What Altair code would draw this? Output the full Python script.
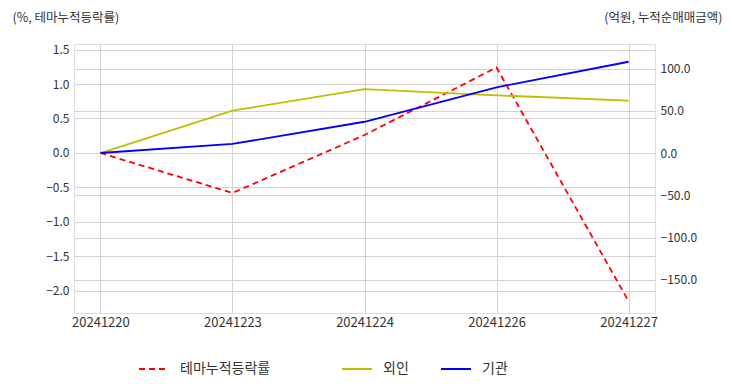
import altair as alt
import pandas as pd

dates = ["20241220", "20241223", "20241224", "20241226", "20241227"]
theme_rate = [0.0, -0.58, 0.26, 1.24, -2.15]      # 테마누적등락률 (%)
foreign = [0.0, 50.1, 75.7, 68.3, 61.9]            # 외인 (억원)
institution = [0.0, 10.7, 37.0, 77.8, 108.0]       # 기관 (억원)

left_names = ["테마누적등락률"]
right_names = ["외인", "기관"]
left_colors = ["#ff0000"]
right_colors = ["#bfbf00", "#0000ff"]

rows = []
for d, a, b, c in zip(dates, theme_rate, foreign, institution):
    rows.append({"date": d, "series": "테마누적등락률", "value": a})
    rows.append({"date": d, "series": "외인", "value": b})
    rows.append({"date": d, "series": "기관", "value": c})
df = pd.DataFrame(rows)

FONT = "Noto Sans CJK KR"
TXT = "#333333"
GRID = "#d3d3d3"

x_enc = alt.X("date:O", sort=dates,
              scale=alt.Scale(type="point", padding=0.2),
              axis=alt.Axis(title=None, labelAngle=0, ticks=False, domain=False,
                            grid=True, gridColor=GRID, labelPadding=3,
                            labelFontSize=13, labelColor=TXT, labelFont=FONT))


def legend(lx):
    return alt.Legend(title=None, orient="none", direction="horizontal",
                      legendX=lx, legendY=309,
                      symbolType="stroke", symbolSize=900,
                      symbolStrokeWidth=2, labelOffset=10,
                      columnPadding=28, labelFontSize=14,
                      labelColor=TXT, labelFont=FONT)


left = alt.Chart(df).transform_filter(alt.datum.series == "테마누적등락률").mark_line(strokeWidth=1.8).encode(
    x=x_enc,
    y=alt.Y("value:Q",
            scale=alt.Scale(domain=[-2.32, 1.58], nice=False, zero=False),
            axis=alt.Axis(orient="left", values=[-2, -1.5, -1, -0.5, 0, 0.5, 1, 1.5], format=".1f",
                          ticks=False, domain=False, grid=True, gridColor=GRID,
                          labelPadding=5, labelFontSize=12, labelColor=TXT, labelFont=FONT,
                          title="(%, 테마누적등락률)", titleAngle=0, titleX=-62, titleY=-27,
                          titleAlign="left", titleBaseline="middle", titleFontSize=12.5,
                          titleFontWeight="normal", titleColor=TXT, titleFont=FONT)),
    color=alt.Color("series:N", scale=alt.Scale(domain=left_names, range=left_colors),
                    legend=legend(64)),
    strokeDash=alt.StrokeDash("series:N", scale=alt.Scale(domain=left_names, range=[[6, 4]]),
                              legend=legend(64)),
)

right = alt.Chart(df).transform_filter(alt.datum.series != "테마누적등락률").mark_line(strokeWidth=1.8).encode(
    x=x_enc,
    y=alt.Y("value:Q",
            scale=alt.Scale(domain=[-189.3, 129], nice=False, zero=False),
            axis=alt.Axis(orient="right", values=[-150, -100, -50, 0, 50, 100], format=".1f",
                          ticks=False, domain=False, grid=True, gridColor=GRID,
                          labelPadding=5, labelFontSize=12, labelColor=TXT, labelFont=FONT,
                          title="(억원, 누적순매매금액)", titleAngle=0, titleX=67, titleY=-27,
                          titleAlign="right", titleBaseline="middle", titleFontSize=12.5,
                          titleFontWeight="normal", titleColor=TXT, titleFont=FONT)),
    color=alt.Color("series:N", scale=alt.Scale(domain=right_names, range=right_colors),
                    legend=legend(267)),
)

chart = alt.layer(left, right).resolve_scale(
    y="independent", color="independent", strokeDash="independent"
).properties(
    width=581, height=269,
    autosize=alt.AutoSizeParams(type="none"),
    padding={"left": 66, "top": 36, "right": 69, "bottom": 71},
).configure_view(stroke="#cccccc", strokeWidth=1.5).configure(background="white")

chart.save("out.html", embed_options={"renderer": "svg", "actions": False})
